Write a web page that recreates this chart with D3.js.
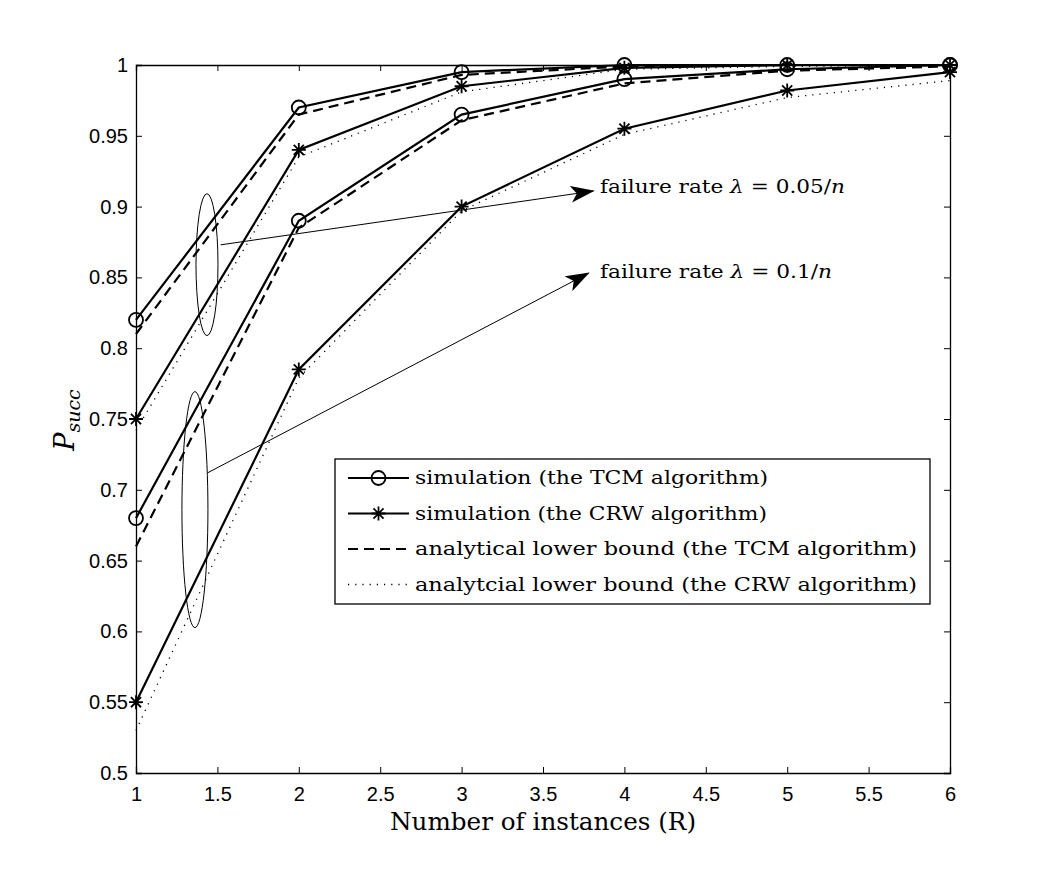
<!DOCTYPE html>
<html>
<head>
<meta charset="utf-8">
<title>Psucc vs number of instances</title>
<script src="https://d3js.org/d3.v7.min.js"></script>
<style>
  body { margin: 0; background: #fff; }
  .serif { font-family: "DejaVu Serif", "Liberation Serif", serif; fill: #000; }
</style>
</head>
<body>
<div id="chart"></div>
<script>
// data
var instances = [1, 2, 3, 4, 5, 6];

// failure rate 0.05/n
var tcmSim05  = [0.82, 0.97, 0.995, 1.0, 1.0, 1.0];
var tcmLb05   = [0.81, 0.965, 0.993, 0.999, 1.0, 1.0];
var crwSim05  = [0.75, 0.94, 0.985, 0.998, 1.0, 1.0];
var crwLb05   = [0.742, 0.935, 0.981, 0.997, 0.999, 1.0];

// failure rate 0.1/n
var tcmSim10  = [0.68, 0.89, 0.965, 0.99, 0.997, 1.0];
var tcmLb10   = [0.66, 0.885, 0.961, 0.987, 0.996, 0.999];
var crwSim10  = [0.55, 0.785, 0.90, 0.955, 0.982, 0.995];
var crwLb10   = [0.53, 0.779, 0.897, 0.951, 0.977, 0.989];

var xTicks = [1, 1.5, 2, 2.5, 3, 3.5, 4, 4.5, 5, 5.5, 6];
var yTicks = [0.5, 0.55, 0.6, 0.65, 0.7, 0.75, 0.8, 0.85, 0.9, 0.95, 1];

var legendLabels = [
  "simulation (the TCM algorithm)",
  "simulation (the CRW algorithm)",
  "analytical lower bound (the TCM algorithm)",
  "analytcial lower bound (the CRW algorithm)"
];
var annotLabels = ["failure rate ", "0.05/", "0.1/"];

// layout
var W = 1050, H = 871;
var margin = {top: 65, right: 100, bottom: 98, left: 136};
var width = W - margin.left - margin.right;
var height = H - margin.top - margin.bottom;

var x = d3.scaleLinear().domain([1, 6]).range([0, width]);
var y = d3.scaleLinear().domain([0.5, 1]).range([height, 0]);

var svg = d3.select('#chart').append('svg')
  .attr('width', W).attr('height', H);
var g = svg.append('g')
  .attr('transform', 'translate(' + margin.left + ',' + margin.top + ')');

// axes, matlab style: ticks inside, on all four sides
var fmt = function(d) { return String(+d.toFixed(2)); };
g.append('g').attr('transform', 'translate(0,' + height + ')')
  .call(d3.axisBottom(x).tickValues(xTicks).tickSize(-6).tickPadding(14).tickFormat(fmt));
g.append('g')
  .call(d3.axisTop(x).tickValues(xTicks).tickSize(-6).tickFormat(''));
g.append('g')
  .call(d3.axisLeft(y).tickValues(yTicks).tickSize(-6).tickPadding(8).tickFormat(fmt));
g.append('g').attr('transform', 'translate(' + width + ',0)')
  .call(d3.axisRight(y).tickValues(yTicks).tickSize(-6).tickFormat(''));
g.selectAll('.domain').attr('stroke', '#000').attr('stroke-width', 1.3);
g.selectAll('.tick line').attr('stroke', '#000').attr('stroke-width', 1);
g.selectAll('.tick text')
  .attr('font-family', '"Liberation Sans", Arial, sans-serif')
  .attr('font-size', 20).attr('fill', '#000');

// series styles
var solid = {dash: null, w: 2.2};
var dashed = {dash: '10,6', w: 2.2};
var dotted = {dash: '1.2,6', w: 1.3};

var series = [
  {v: tcmLb05, s: dashed}, {v: crwLb05, s: dotted},
  {v: tcmLb10, s: dashed}, {v: crwLb10, s: dotted},
  {v: tcmSim05, s: solid, m: 'o'}, {v: crwSim05, s: solid, m: '*'},
  {v: tcmSim10, s: solid, m: 'o'}, {v: crwSim10, s: solid, m: '*'}
];

var line = d3.line()
  .x(function(d, i) { return x(instances[i]); })
  .y(function(d) { return y(d); });

function starPath(r) {
  var d = 'M' + (-r) + ',0L' + r + ',0M0,' + (-r) + 'L0,' + r;
  var q = r * 0.72;
  d += 'M' + (-q) + ',' + (-q) + 'L' + q + ',' + q + 'M' + (-q) + ',' + q + 'L' + q + ',' + (-q);
  return d;
}

function drawMarker(sel, m, px, py) {
  if (m === 'o') {
    sel.append('circle').attr('cx', px).attr('cy', py).attr('r', 7)
      .attr('fill', 'none').attr('stroke', '#000').attr('stroke-width', 1.8);
  } else if (m === '*') {
    sel.append('path').attr('d', starPath(7))
      .attr('transform', 'translate(' + px + ',' + py + ')')
      .attr('fill', 'none').attr('stroke', '#000').attr('stroke-width', 1.8);
  }
}

var plot = g.append('g');
series.forEach(function(sr) {
  plot.append('path').datum(sr.v)
    .attr('d', line)
    .attr('fill', 'none').attr('stroke', '#000')
    .attr('stroke-width', sr.s.w)
    .attr('stroke-dasharray', sr.s.dash);
  if (sr.m) {
    sr.v.forEach(function(d, i) { drawMarker(plot, sr.m, x(instances[i]), y(d)); });
  }
});

// annotations: ellipses and arrows
svg.append('defs').append('marker')
  .attr('id', 'arr').attr('viewBox', '0 0 20 14').attr('refX', 19).attr('refY', 7)
  .attr('markerWidth', 24).attr('markerHeight', 17).attr('markerUnits', 'userSpaceOnUse')
  .attr('orient', 'auto')
  .append('path').attr('d', 'M0,0L20,7L0,14L5,7Z').attr('fill', '#000');

var ann = svg.append('g');
ann.append('ellipse').attr('cx', x(1.436) + margin.left).attr('cy', y(0.859) + margin.top)
  .attr('rx', 11).attr('ry', 71).attr('fill', 'none').attr('stroke', '#000').attr('stroke-width', 1);
ann.append('ellipse').attr('cx', x(1.362) + margin.left).attr('cy', y(0.686) + margin.top)
  .attr('rx', 13).attr('ry', 118).attr('fill', 'none').attr('stroke', '#000').attr('stroke-width', 1);

ann.append('line')
  .attr('x1', x(1.52) + margin.left).attr('y1', y(0.873) + margin.top)
  .attr('x2', x(3.81) + margin.left).attr('y2', y(0.911) + margin.top)
  .attr('stroke', '#000').attr('stroke-width', 1).attr('marker-end', 'url(#arr)');
ann.append('line')
  .attr('x1', x(1.44) + margin.left).attr('y1', y(0.712) + margin.top)
  .attr('x2', x(3.78) + margin.left).attr('y2', y(0.853) + margin.top)
  .attr('stroke', '#000').attr('stroke-width', 1).attr('marker-end', 'url(#arr)');

function annotText(px, py, rate, len) {
  var t = svg.append('text').attr('class', 'serif').attr('x', px).attr('y', py)
    .style('font-size', '19px')
    .attr('textLength', len).attr('lengthAdjust', 'spacingAndGlyphs');
  t.append('tspan').text(annotLabels[0]);
  t.append('tspan').style('font-style', 'italic').text('λ');
  t.append('tspan').text(' = ' + rate);
  t.append('tspan').style('font-style', 'italic').text('n');
}
annotText(600, 193, annotLabels[1], 245);
annotText(600, 278, annotLabels[2], 232);

// legend
var lg = svg.append('g').attr('transform', 'translate(335,459)');
lg.append('rect').attr('width', 595).attr('height', 145)
  .attr('fill', '#fff').attr('stroke', '#000').attr('stroke-width', 1.3);
var legStyles = [
  {s: solid, m: 'o'}, {s: solid, m: '*'}, {s: dashed}, {s: dotted}
];
var legLens = [353, 352, 502, 502];
legendLabels.forEach(function(lab, i) {
  var yy = 19 + i * 35.5;
  var st = legStyles[i];
  lg.append('line').attr('x1', 13).attr('x2', 74).attr('y1', yy).attr('y2', yy)
    .attr('stroke', '#000').attr('stroke-width', st.s === dotted ? 1.3 : 2)
    .attr('stroke-dasharray', st.s.dash);
  if (st.m) drawMarker(lg, st.m, 43.5, yy);
  lg.append('text').attr('class', 'serif').attr('x', 80).attr('y', yy + 6)
    .style('font-size', '19px')
    .attr('textLength', legLens[i]).attr('lengthAdjust', 'spacingAndGlyphs')
    .text(lab);
});

// axis labels
svg.append('text').attr('class', 'serif')
  .attr('x', margin.left + width / 2).attr('y', 830)
  .attr('text-anchor', 'middle').style('font-size', '24px')
  .attr('textLength', 306).attr('lengthAdjust', 'spacingAndGlyphs')
  .text('Number of instances (R)');

var yl = svg.append('text').attr('class', 'serif')
  .attr('transform', 'translate(74,420) rotate(-90)')
  .attr('text-anchor', 'middle').style('font-size', '27px').style('font-style', 'italic');
yl.append('tspan').text('P');
yl.append('tspan').attr('dy', 6).style('font-size', '19px').text('succ');
</script>
</body>
</html>
